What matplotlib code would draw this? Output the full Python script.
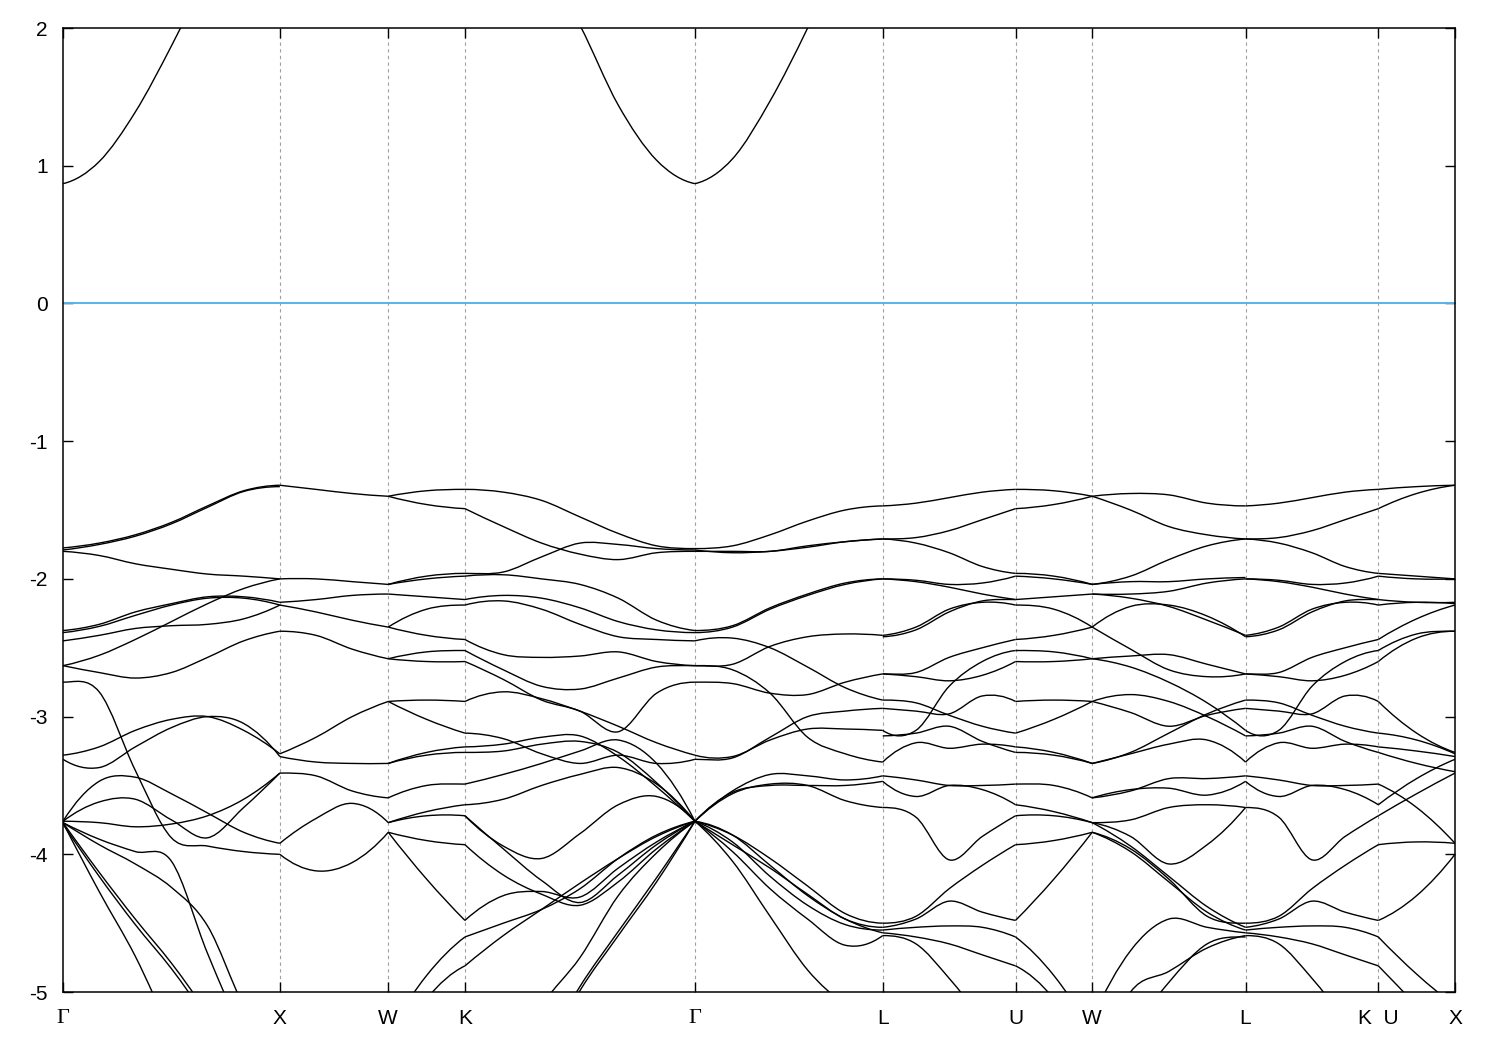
import matplotlib.pyplot as plt
from matplotlib.path import Path
from matplotlib.patches import PathPatch

plt.rcParams['font.family'] = ['Liberation Sans', 'DejaVu Sans']
plt.rcParams['axes.unicode_minus'] = False

# high symmetry points along the path (units of 2pi/a)
sym_k = [0.0, 1.0, 1.5, 1.8536, 2.9142, 3.7802, 4.3926, 4.7462, 5.4533, 6.0657, 6.4193]
sym_labels = ['Γ', 'X', 'W', 'K', 'Γ', 'L', 'U', 'W', 'L', 'K  U', 'X']
y_ticks = [-5, -4, -3, -2, -1, 0, 1, 2]

# energies (eV) read at a few k points of every segment
k_gx = [0.0, 0.1667, 0.3333, 0.5, 0.6667, 0.8333, 1.0]
bands_gx = [
    [0.87, 1.03, 1.39, 1.87, 2.40, 2.90, 3.30],
    [-1.775, -1.74, -1.68, -1.59, -1.47, -1.36, -1.32],
    [-1.79, -1.75, -1.69, -1.60, -1.48, -1.365, -1.33],
    [-1.80, -1.83, -1.89, -1.93, -1.965, -1.98, -2.00],
    [-2.375, -2.33, -2.24, -2.18, -2.13, -2.13, -2.17],
    [-2.39, -2.345, -2.265, -2.19, -2.14, -2.14, -2.19],
    [-2.45, -2.41, -2.36, -2.34, -2.33, -2.29, -2.19],
    [-2.63, -2.555, -2.44, -2.31, -2.18, -2.07, -2.00],
    [-2.63, -2.68, -2.72, -2.68, -2.57, -2.45, -2.38],
    [-2.75, -2.82, -3.39, -3.88, -3.94, -3.98, -4.00],
    [-3.28, -3.22, -3.10, -3.02, -3.00, -3.10, -3.27],
    [-3.31, -3.37, -3.22, -3.08, -3.00, -3.05, -3.29],
    [-3.76, -3.47, -3.44, -3.56, -3.70, -3.84, -3.92],
    [-3.76, -3.77, -3.80, -3.78, -3.72, -3.60, -3.41],
    [-3.76, -3.62, -3.60, -3.75, -3.88, -3.66, -3.41],
    [-3.77, -4.27, -4.74, -5.30, -5.80, -6.20, -6.50],
    [-3.77, -4.13, -4.47, -4.79, -5.15, -5.50, -5.80],
    [-3.78, -4.16, -4.51, -4.83, -5.19, -5.50, -5.80],
    [-3.77, -3.89, -3.98, -4.05, -4.72, -5.30, -5.60],
    [-3.77, -3.93, -4.07, -4.24, -4.52, -5.10, -5.50],
]

k_xw = [1.0, 1.1667, 1.3333, 1.5]
bands_xw = [
    [-1.32, -1.35, -1.38, -1.40],
    [-2.00, -2.00, -2.02, -2.04],
    [-2.17, -2.15, -2.12, -2.11],
    [-2.19, -2.24, -2.30, -2.35],
    [-2.38, -2.41, -2.51, -2.58],
    [-3.27, -3.15, -3.00, -2.89],
    [-3.29, -3.33, -3.34, -3.34],
    [-3.41, -3.43, -3.54, -3.59],
    [-3.92, -3.74, -3.63, -3.77],
    [-4.00, -4.12, -4.06, -3.84],
]

# W-K, also used (reversed) for U-W
k_wk = [1.5, 1.6768, 1.8536]
bands_wk = [
    [-1.40, -1.36, -1.35],
    [-1.40, -1.46, -1.49],
    [-2.04, -1.98, -1.96],
    [-2.04, -2.00, -1.98],
    [-2.11, -2.13, -2.15],
    [-2.35, -2.22, -2.19],
    [-2.35, -2.41, -2.44],
    [-2.58, -2.53, -2.52],
    [-2.58, -2.60, -2.60],
    [-2.89, -2.88, -2.89],
    [-2.89, -3.02, -3.12],
    [-3.34, -3.26, -3.22],
    [-3.34, -3.28, -3.26],
    [-3.59, -3.50, -3.49],
    [-3.77, -3.69, -3.64],
    [-3.77, -3.72, -3.72],
    [-3.84, -3.90, -3.93],
    [-3.84, -4.18, -4.48],
    [-5.30, -4.88, -4.60],
    [-5.50, -5.05, -4.81],
]

k_kg = [1.8536, 2.0304, 2.2071, 2.3839, 2.5607, 2.7374, 2.9142]
bands_kg = [
    [3.20, 2.90, 2.50, 2.02, 1.44, 1.04, 0.87],
    [-1.35, -1.37, -1.43, -1.55, -1.67, -1.76, -1.78],
    [-1.49, -1.62, -1.74, -1.82, -1.86, -1.81, -1.80],
    [-1.96, -1.95, -1.84, -1.74, -1.75, -1.78, -1.79],
    [-1.98, -1.97, -2.00, -2.04, -2.14, -2.30, -2.375],
    [-2.15, -2.12, -2.14, -2.21, -2.31, -2.37, -2.39],
    [-2.19, -2.16, -2.22, -2.33, -2.42, -2.44, -2.45],
    [-2.44, -2.55, -2.57, -2.56, -2.53, -2.60, -2.63],
    [-2.52, -2.66, -2.78, -2.80, -2.72, -2.64, -2.63],
    [-2.60, -2.73, -2.88, -2.96, -3.11, -2.83, -2.75],
    [-2.89, -2.82, -2.87, -2.96, -3.07, -3.19, -3.28],
    [-3.12, -3.16, -3.27, -3.34, -3.28, -3.34, -3.31],
    [-3.22, -3.20, -3.15, -3.14, -3.29, -3.51, -3.76],
    [-3.26, -3.25, -3.20, -3.18, -3.26, -3.48, -3.76],
    [-3.49, -3.42, -3.34, -3.25, -3.17, -3.34, -3.76],
    [-3.64, -3.60, -3.50, -3.42, -3.37, -3.49, -3.76],
    [-3.72, -3.94, -4.03, -3.85, -3.64, -3.58, -3.76],
    [-3.72, -3.96, -4.19, -4.35, -4.15, -3.93, -3.76],
    [-3.93, -4.15, -4.29, -4.37, -4.20, -3.96, -3.76],
    [-4.48, -4.30, -4.27, -4.31, -4.10, -3.91, -3.76],
    [-4.60, -4.50, -4.40, -4.25, -4.03, -3.86, -3.76],
    [-4.81, -4.59, -4.40, -4.21, -4.03, -3.87, -3.76],
    [-6.00, -5.60, -5.10, -4.75, -4.30, -3.99, -3.76],
    [-6.40, -6.00, -5.50, -4.99, -4.59, -4.20, -3.76],
    [-6.40, -5.95, -5.45, -4.96, -4.56, -4.17, -3.76],
]

k_gl = [2.9142, 3.0874, 3.2606, 3.4338, 3.607, 3.7802]
bands_gl = [
    [0.87, 1.05, 1.47, 2.00, 2.60, 3.10],
    [-1.78, -1.76, -1.68, -1.58, -1.50, -1.47],
    [-1.80, -1.80, -1.80, -1.76, -1.73, -1.71],
    [-1.79, -1.81, -1.80, -1.77, -1.73, -1.71],
    [-2.375, -2.34, -2.21, -2.11, -2.03, -2.00],
    [-2.39, -2.35, -2.22, -2.12, -2.04, -2.00],
    [-2.45, -2.43, -2.50, -2.64, -2.79, -2.88],
    [-2.63, -2.62, -2.49, -2.42, -2.40, -2.41],
    [-2.63, -2.66, -2.83, -3.15, -3.27, -3.33],
    [-2.75, -2.76, -2.83, -2.84, -2.75, -2.69],
    [-3.28, -3.29, -3.17, -3.09, -3.09, -3.10],
    [-3.31, -3.30, -3.15, -3.00, -2.96, -2.94],
    [-3.76, -3.54, -3.42, -3.43, -3.46, -3.43],
    [-3.76, -3.55, -3.50, -3.50, -3.50, -3.47],
    [-3.76, -3.56, -3.49, -3.50, -3.61, -3.66],
    [-3.76, -3.86, -4.03, -4.23, -4.43, -4.50],
    [-3.76, -3.93, -4.10, -4.29, -4.47, -4.53],
    [-3.76, -3.91, -4.16, -4.37, -4.51, -4.55],
    [-3.76, -3.98, -4.25, -4.47, -4.66, -4.59],
    [-3.76, -3.86, -4.08, -4.30, -4.47, -4.57],
    [-3.76, -4.05, -4.45, -4.84, -5.10, -5.30],
]

# L-K, the same bands also drawn for L-U
k_lu = [3.7802, 3.9333, 4.0864, 4.2395, 4.3926]
k_lk = [5.4533, 5.6064, 5.7595, 5.9126, 6.0657]
bands_lk = [
    [-1.47, -1.45, -1.41, -1.37, -1.35],
    [-1.71, -1.70, -1.65, -1.57, -1.49],
    [-1.71, -1.74, -1.81, -1.91, -1.96],
    [-2.00, -2.01, -2.04, -2.03, -1.98],
    [-2.00, -2.02, -2.06, -2.11, -2.15],
    [-2.41, -2.35, -2.22, -2.17, -2.19],
    [-2.42, -2.37, -2.24, -2.16, -2.15],
    [-2.69, -2.68, -2.57, -2.50, -2.44],
    [-2.69, -2.71, -2.74, -2.70, -2.60],
    [-3.10, -3.10, -2.78, -2.60, -2.52],
    [-2.88, -2.90, -2.99, -3.07, -3.12],
    [-2.94, -2.96, -2.98, -2.85, -2.89],
    [-3.14, -3.12, -3.07, -3.18, -3.26],
    [-3.33, -3.19, -3.23, -3.20, -3.22],
    [-3.43, -3.46, -3.50, -3.50, -3.49],
    [-3.47, -3.58, -3.50, -3.53, -3.64],
    [-3.66, -3.73, -4.04, -3.87, -3.72],
    [-4.50, -4.45, -4.25, -4.08, -3.93],
    [-4.53, -4.47, -4.34, -4.42, -4.48],
    [-4.55, -4.53, -4.52, -4.53, -4.60],
    [-4.57, -4.60, -4.65, -4.73, -4.81],
    [-4.59, -4.65, -4.90, -5.20, -5.50],
]

k_uw = [4.7462, 4.5694, 4.3926]  # W end first, to reuse bands_wk

k_wl = [4.7462, 4.923, 5.0997, 5.2765, 5.4533]
bands_wl = [
    [-1.40, -1.38, -1.39, -1.45, -1.47],
    [-1.40, -1.50, -1.62, -1.68, -1.71],
    [-2.04, -1.98, -1.86, -1.76, -1.71],
    [-2.04, -2.02, -2.02, -2.00, -1.99],
    [-2.11, -2.11, -2.09, -2.03, -2.00],
    [-2.11, -2.14, -2.20, -2.30, -2.41],
    [-2.35, -2.20, -2.19, -2.27, -2.42],
    [-2.35, -2.51, -2.66, -2.71, -2.69],
    [-2.58, -2.56, -2.55, -2.62, -2.69],
    [-2.58, -2.64, -2.75, -2.90, -3.10],
    [-2.89, -2.84, -2.89, -3.00, -3.14],
    [-2.89, -2.97, -3.07, -2.99, -2.94],
    [-3.34, -3.27, -3.20, -3.17, -3.33],
    [-3.34, -3.26, -3.12, -2.98, -2.88],
    [-3.59, -3.54, -3.45, -3.45, -3.43],
    [-3.59, -3.53, -3.52, -3.57, -3.47],
    [-3.77, -3.75, -3.66, -3.64, -3.66],
    [-3.77, -3.87, -4.07, -3.93, -3.66],
    [-3.84, -3.96, -4.18, -4.45, -4.50],
    [-3.77, -3.94, -4.16, -4.38, -4.53],
    [-3.84, -3.98, -4.20, -4.42, -4.55],
    [-5.20, -4.70, -4.47, -4.53, -4.57],
    [-5.60, -5.00, -4.85, -4.68, -4.59],
    [-5.80, -5.30, -4.93, -4.65, -4.60],
]

k_ux = [6.0657, 6.2425, 6.4193]
bands_ux = [
    [-1.35, -1.33, -1.32],
    [-1.49, -1.38, -1.32],
    [-1.96, -1.98, -2.00],
    [-1.98, -2.00, -2.00],
    [-2.15, -2.17, -2.17],
    [-2.19, -2.17, -2.18],
    [-2.44, -2.29, -2.19],
    [-2.52, -2.40, -2.38],
    [-2.60, -2.43, -2.38],
    [-2.89, -3.12, -3.26],
    [-3.12, -3.17, -3.27],
    [-3.22, -3.25, -3.29],
    [-3.26, -3.34, -3.40],
    [-3.49, -3.66, -3.92],
    [-3.64, -3.45, -3.31],
    [-3.72, -3.56, -3.41],
    [-3.93, -3.91, -3.92],
    [-4.48, -4.30, -4.00],
    [-4.60, -4.87, -5.10],
    [-4.81, -5.10, -5.40],
]

segments = [
    (k_gx, bands_gx), (k_xw, bands_xw), (k_wk, bands_wk), (k_kg, bands_kg),
    (k_gl, bands_gl), (k_lu, bands_lk), (k_uw, bands_wk), (k_wl, bands_wl),
    (k_lk, bands_lk), (k_ux, bands_ux),
]


def band_path(ks, es):
    # smooth curve through the read points (cubic Bezier pieces)
    n = len(ks)
    sl = [0.0] * n
    for i in range(1, n - 1):
        sl[i] = (es[i + 1] - es[i - 1]) / (ks[i + 1] - ks[i - 1])
    s0 = (es[1] - es[0]) / (ks[1] - ks[0])
    s1 = (es[-1] - es[-2]) / (ks[-1] - ks[-2])
    if n > 2:
        sl[0] = 2 * s0 - sl[1]
        sl[-1] = 2 * s1 - sl[-2]
        if sl[0] * s0 < 0:
            sl[0] = 0.0
        if sl[-1] * s1 < 0:
            sl[-1] = 0.0
    else:
        sl[0] = s0
        sl[-1] = s1
    verts = [(ks[0], es[0])]
    codes = [Path.MOVETO]
    for i in range(n - 1):
        h = ks[i + 1] - ks[i]
        verts.append((ks[i] + h / 3, es[i] + sl[i] * h / 3))
        verts.append((ks[i + 1] - h / 3, es[i + 1] - sl[i + 1] * h / 3))
        verts.append((ks[i + 1], es[i + 1]))
        codes += [Path.CURVE4] * 3
    return Path(verts, codes)


fig = plt.figure(figsize=(15, 10.5), dpi=100)
ax = fig.add_axes([0.042, 0.0552, 0.928, 0.9181])

for kx in sym_k[1:-1]:
    ax.axvline(kx, color='#a0a0a0', lw=0.8, ls=(0, (3, 3)), zorder=1)
ax.axhline(0, color='#56b4e9', lw=1.4, zorder=2)

for ks, bands in segments:
    for es in bands:
        ax.add_patch(PathPatch(band_path(ks, es), fill=False, edgecolor='black',
                               lw=1.0, zorder=3))

ax.set_xlim(sym_k[0], sym_k[-1])
ax.set_ylim(-5, 2)
ax.set_xticks(sym_k)
ax.set_xticklabels(sym_labels)
ax.set_yticks(y_ticks)
ax.set_yticklabels([str(v) for v in y_ticks])
ax.tick_params(direction='in', length=7, width=1, top=True, right=True, labelsize=15)
ax.tick_params(axis='y', pad=11)
ax.tick_params(axis='x', pad=12)
for lbl in ax.get_xticklabels():
    if lbl.get_text() == 'Γ':
        lbl.set_fontfamily('Liberation Serif')
        lbl.set_fontsize(16)
for s in ax.spines.values():
    s.set_linewidth(1.1)

fig.savefig('out.png', dpi=100)
